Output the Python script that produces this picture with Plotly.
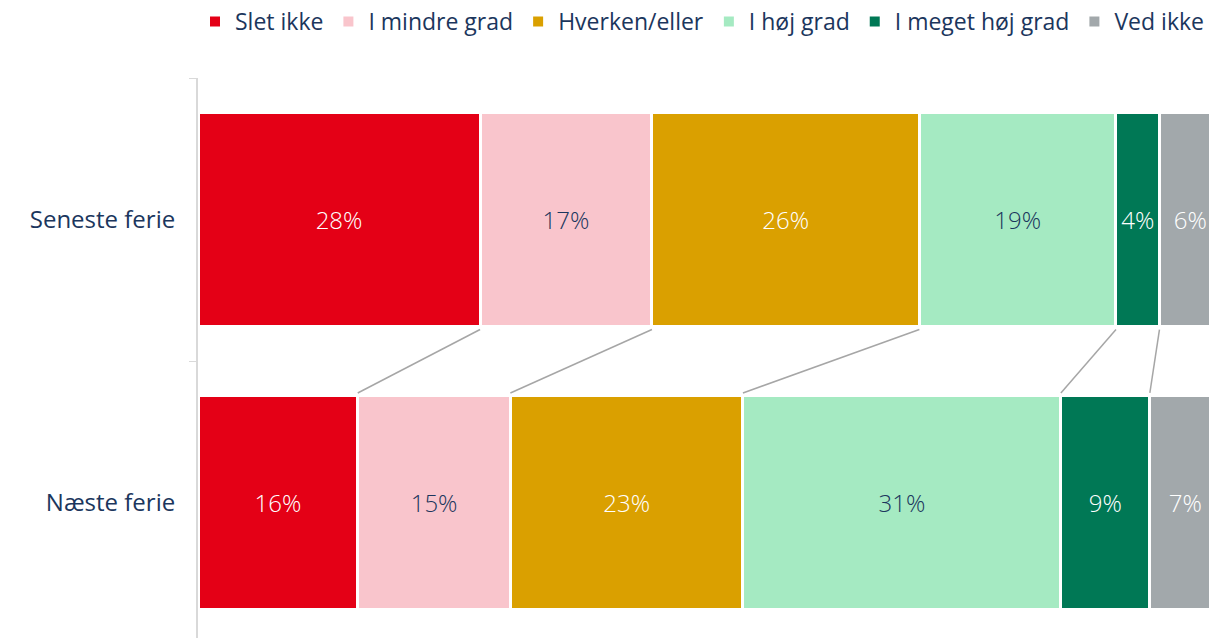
import plotly.graph_objects as go

categories = ["Seneste ferie", "Næste ferie"]
series_names = ["Slet ikke", "I mindre grad", "Hverken/eller", "I høj grad", "I meget høj grad", "Ved ikke"]
values = {
    "Slet ikke": [27.9, 15.8],
    "I mindre grad": [17.0, 15.1],
    "Hverken/eller": [26.45, 23.0],
    "I høj grad": [19.45, 31.45],
    "I meget høj grad": [4.3, 8.8],
    "Ved ikke": [6.1, 7.0],
}
colors = ["#E40016", "#F9C5CC", "#DAA000", "#A5EAC2", "#007855", "#A2A8AB"]
text_colors = ["white", "#1B365D", "white", "#1B365D", "white", "white"]

NAVY = "#1B365D"
FONT = "Open Sans"

fig = go.Figure()
for name, col, tc in zip(series_names, colors, text_colors):
    fig.add_trace(go.Bar(
        y=categories, x=values[name], name=name, orientation="h",
        marker=dict(color=col, line=dict(color="white", width=3)),
        texttemplate="%{x:.0f}%", textposition="inside", insidetextanchor="middle",
        textfont=dict(color=tc, size=24, family=FONT, weight=300),
        constraintext="none",
    ))

# connector lines between bar boundaries
half = 0.756 / 2
cum_top = 0.0
cum_bot = 0.0
for name in series_names[:-1]:
    cum_top += values[name][0]
    cum_bot += values[name][1]
    fig.add_shape(type="line", xref="x", yref="y",
                  x0=cum_top, y0=0 + half + 0.01, x1=cum_bot, y1=1 - half - 0.01,
                  line=dict(color="#A6A6A6", width=1.5))

fig.update_layout(
    barmode="stack", bargap=0.244,
    width=1209, height=638,
    margin=dict(l=198, r=0, t=78, b=0),
    plot_bgcolor="white", paper_bgcolor="white",
    font=dict(family=FONT, color=NAVY),
    showlegend=True,
    legend=dict(orientation="h", x=1, xanchor="right", y=1.0, yref="container", yanchor="top",
                font=dict(size=23, color=NAVY, family=FONT), traceorder="normal",
                itemwidth=30, itemsizing="constant"),
    uniformtext=dict(mode=False),
)
fig.update_xaxes(range=[0, 100], visible=False, fixedrange=True)
fig.update_yaxes(categoryorder="array", categoryarray=categories,
                 range=[1.477, -0.5], showline=True, linecolor="#D9D9D9", linewidth=2,
                 ticks="outside", tickson="boundaries", ticklen=7, tickcolor="#D9D9D9",
                 tickfont=dict(size=24, color=NAVY, family=FONT), ticklabelstandoff=16,
                 showgrid=False, zeroline=False, fixedrange=True)

fig.write_html("out.html", config={"displayModeBar": False},
               post_script="document.body.style.margin='0';document.body.style.overflow='hidden';")
